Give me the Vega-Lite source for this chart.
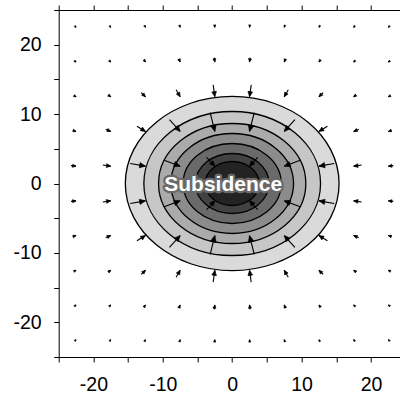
{
  "$schema": "https://vega.github.io/schema/vega-lite/v6.json",
  "width": 341.3,
  "height": 347,
  "autosize": "none",
  "padding": {"left": 58.7, "top": 10, "right": 0, "bottom": 38},
  "background": "white",
  "config": {
    "view": {"stroke": null},
    "axis": {
      "domainColor": "black", "tickColor": "black", "labelColor": "black",
      "labelFont": "Liberation Sans", "labelFontSize": 19.5, "tickSize": 5,
      "domainWidth": 1, "tickWidth": 1, "grid": false, "title": null,
      "labelOverlap": false, "labelFlush": false, "labelBound": false
    }
  },
  "datasets": {
    "arrows": [
      {"tx":2.5,"ty":2.5,"sx":3.68,"sy":3.76,"ang":223,"mag":1.73},
      {"tx":7.5,"ty":2.5,"sx":9.8,"sy":3.34,"ang":250,"mag":2.45},
      {"tx":12.5,"ty":2.5,"sx":14.7,"sy":2.89,"ang":260,"mag":2.23},
      {"tx":17.5,"ty":2.5,"sx":18.64,"sy":2.66,"ang":262,"mag":1.15},
      {"tx":22.5,"ty":2.5,"sx":23.22,"sy":2.58,"ang":264,"mag":0.72},
      {"tx":2.5,"ty":7.5,"sx":3.18,"sy":10.23,"ang":194,"mag":2.81},
      {"tx":7.5,"ty":7.5,"sx":9.04,"sy":9.21,"ang":222,"mag":2.31},
      {"tx":12.5,"ty":7.5,"sx":13.72,"sy":8.26,"ang":238,"mag":1.44},
      {"tx":17.5,"ty":7.5,"sx":18.23,"sy":7.81,"ang":247,"mag":0.79},
      {"tx":22.5,"ty":7.5,"sx":22.98,"sy":7.66,"ang":252,"mag":0.5},
      {"tx":2.5,"ty":12.5,"sx":2.74,"sy":14.21,"ang":188,"mag":1.73},
      {"tx":7.5,"ty":12.5,"sx":8.08,"sy":13.5,"ang":210,"mag":1.15},
      {"tx":12.5,"ty":12.5,"sx":13.11,"sy":13.11,"ang":225,"mag":0.87},
      {"tx":17.5,"ty":12.5,"sx":17.85,"sy":12.75,"ang":234,"mag":0.43},
      {"tx":22.5,"ty":12.5,"sx":22.75,"sy":12.64,"ang":241,"mag":0.29},
      {"tx":2.5,"ty":17.5,"sx":2.59,"sy":18.14,"ang":188,"mag":0.65},
      {"tx":7.5,"ty":17.5,"sx":7.7,"sy":17.96,"ang":203,"mag":0.5},
      {"tx":12.5,"ty":17.5,"sx":12.71,"sy":17.79,"ang":215,"mag":0.36},
      {"tx":17.5,"ty":17.5,"sx":17.65,"sy":17.65,"ang":225,"mag":0.22},
      {"tx":22.5,"ty":17.5,"sx":22.64,"sy":17.61,"ang":232,"mag":0.17},
      {"tx":2.5,"ty":22.5,"sx":2.53,"sy":22.79,"ang":186,"mag":0.29},
      {"tx":7.5,"ty":22.5,"sx":7.57,"sy":22.71,"ang":198,"mag":0.22},
      {"tx":12.5,"ty":22.5,"sx":12.58,"sy":22.65,"ang":209,"mag":0.17},
      {"tx":17.5,"ty":22.5,"sx":17.59,"sy":22.61,"ang":218,"mag":0.14},
      {"tx":22.5,"ty":22.5,"sx":22.6,"sy":22.6,"ang":225,"mag":0.14},

      {"tx":-2.5,"ty":2.5,"sx":-3.68,"sy":3.76,"ang":137,"mag":1.73},
      {"tx":-7.5,"ty":2.5,"sx":-9.8,"sy":3.34,"ang":110,"mag":2.45},
      {"tx":-12.5,"ty":2.5,"sx":-14.7,"sy":2.89,"ang":100,"mag":2.23},
      {"tx":-17.5,"ty":2.5,"sx":-18.64,"sy":2.66,"ang":98,"mag":1.15},
      {"tx":-22.5,"ty":2.5,"sx":-23.22,"sy":2.58,"ang":96,"mag":0.72},
      {"tx":-2.5,"ty":7.5,"sx":-3.18,"sy":10.23,"ang":166,"mag":2.81},
      {"tx":-7.5,"ty":7.5,"sx":-9.04,"sy":9.21,"ang":138,"mag":2.31},
      {"tx":-12.5,"ty":7.5,"sx":-13.72,"sy":8.26,"ang":122,"mag":1.44},
      {"tx":-17.5,"ty":7.5,"sx":-18.23,"sy":7.81,"ang":113,"mag":0.79},
      {"tx":-22.5,"ty":7.5,"sx":-22.98,"sy":7.66,"ang":108,"mag":0.5},
      {"tx":-2.5,"ty":12.5,"sx":-2.74,"sy":14.21,"ang":172,"mag":1.73},
      {"tx":-7.5,"ty":12.5,"sx":-8.08,"sy":13.5,"ang":150,"mag":1.15},
      {"tx":-12.5,"ty":12.5,"sx":-13.11,"sy":13.11,"ang":135,"mag":0.87},
      {"tx":-17.5,"ty":12.5,"sx":-17.85,"sy":12.75,"ang":126,"mag":0.43},
      {"tx":-22.5,"ty":12.5,"sx":-22.75,"sy":12.64,"ang":119,"mag":0.29},
      {"tx":-2.5,"ty":17.5,"sx":-2.59,"sy":18.14,"ang":172,"mag":0.65},
      {"tx":-7.5,"ty":17.5,"sx":-7.7,"sy":17.96,"ang":157,"mag":0.5},
      {"tx":-12.5,"ty":17.5,"sx":-12.71,"sy":17.79,"ang":145,"mag":0.36},
      {"tx":-17.5,"ty":17.5,"sx":-17.65,"sy":17.65,"ang":135,"mag":0.22},
      {"tx":-22.5,"ty":17.5,"sx":-22.64,"sy":17.61,"ang":128,"mag":0.17},
      {"tx":-2.5,"ty":22.5,"sx":-2.53,"sy":22.79,"ang":174,"mag":0.29},
      {"tx":-7.5,"ty":22.5,"sx":-7.57,"sy":22.71,"ang":162,"mag":0.22},
      {"tx":-12.5,"ty":22.5,"sx":-12.58,"sy":22.65,"ang":151,"mag":0.17},
      {"tx":-17.5,"ty":22.5,"sx":-17.59,"sy":22.61,"ang":142,"mag":0.14},
      {"tx":-22.5,"ty":22.5,"sx":-22.6,"sy":22.6,"ang":135,"mag":0.14},

      {"tx":-2.5,"ty":-2.5,"sx":-3.68,"sy":-3.76,"ang":43,"mag":1.73},
      {"tx":-7.5,"ty":-2.5,"sx":-9.8,"sy":-3.34,"ang":70,"mag":2.45},
      {"tx":-12.5,"ty":-2.5,"sx":-14.7,"sy":-2.89,"ang":80,"mag":2.23},
      {"tx":-17.5,"ty":-2.5,"sx":-18.64,"sy":-2.66,"ang":82,"mag":1.15},
      {"tx":-22.5,"ty":-2.5,"sx":-23.22,"sy":-2.58,"ang":84,"mag":0.72},
      {"tx":-2.5,"ty":-7.5,"sx":-3.18,"sy":-10.23,"ang":14,"mag":2.81},
      {"tx":-7.5,"ty":-7.5,"sx":-9.04,"sy":-9.21,"ang":42,"mag":2.31},
      {"tx":-12.5,"ty":-7.5,"sx":-13.72,"sy":-8.26,"ang":58,"mag":1.44},
      {"tx":-17.5,"ty":-7.5,"sx":-18.23,"sy":-7.81,"ang":67,"mag":0.79},
      {"tx":-22.5,"ty":-7.5,"sx":-22.98,"sy":-7.66,"ang":72,"mag":0.5},
      {"tx":-2.5,"ty":-12.5,"sx":-2.74,"sy":-14.21,"ang":8,"mag":1.73},
      {"tx":-7.5,"ty":-12.5,"sx":-8.08,"sy":-13.5,"ang":30,"mag":1.15},
      {"tx":-12.5,"ty":-12.5,"sx":-13.11,"sy":-13.11,"ang":45,"mag":0.87},
      {"tx":-17.5,"ty":-12.5,"sx":-17.85,"sy":-12.75,"ang":54,"mag":0.43},
      {"tx":-22.5,"ty":-12.5,"sx":-22.75,"sy":-12.64,"ang":61,"mag":0.29},
      {"tx":-2.5,"ty":-17.5,"sx":-2.59,"sy":-18.14,"ang":8,"mag":0.65},
      {"tx":-7.5,"ty":-17.5,"sx":-7.7,"sy":-17.96,"ang":23,"mag":0.5},
      {"tx":-12.5,"ty":-17.5,"sx":-12.71,"sy":-17.79,"ang":35,"mag":0.36},
      {"tx":-17.5,"ty":-17.5,"sx":-17.65,"sy":-17.65,"ang":45,"mag":0.22},
      {"tx":-22.5,"ty":-17.5,"sx":-22.64,"sy":-17.61,"ang":52,"mag":0.17},
      {"tx":-2.5,"ty":-22.5,"sx":-2.53,"sy":-22.79,"ang":6,"mag":0.29},
      {"tx":-7.5,"ty":-22.5,"sx":-7.57,"sy":-22.71,"ang":18,"mag":0.22},
      {"tx":-12.5,"ty":-22.5,"sx":-12.58,"sy":-22.65,"ang":29,"mag":0.17},
      {"tx":-17.5,"ty":-22.5,"sx":-17.59,"sy":-22.61,"ang":38,"mag":0.14},
      {"tx":-22.5,"ty":-22.5,"sx":-22.6,"sy":-22.6,"ang":45,"mag":0.14},

      {"tx":2.5,"ty":-2.5,"sx":3.68,"sy":-3.76,"ang":317,"mag":1.73},
      {"tx":7.5,"ty":-2.5,"sx":9.8,"sy":-3.34,"ang":290,"mag":2.45},
      {"tx":12.5,"ty":-2.5,"sx":14.7,"sy":-2.89,"ang":280,"mag":2.23},
      {"tx":17.5,"ty":-2.5,"sx":18.64,"sy":-2.66,"ang":278,"mag":1.15},
      {"tx":22.5,"ty":-2.5,"sx":23.22,"sy":-2.58,"ang":276,"mag":0.72},
      {"tx":2.5,"ty":-7.5,"sx":3.18,"sy":-10.23,"ang":346,"mag":2.81},
      {"tx":7.5,"ty":-7.5,"sx":9.04,"sy":-9.21,"ang":318,"mag":2.31},
      {"tx":12.5,"ty":-7.5,"sx":13.72,"sy":-8.26,"ang":302,"mag":1.44},
      {"tx":17.5,"ty":-7.5,"sx":18.23,"sy":-7.81,"ang":293,"mag":0.79},
      {"tx":22.5,"ty":-7.5,"sx":22.98,"sy":-7.66,"ang":288,"mag":0.5},
      {"tx":2.5,"ty":-12.5,"sx":2.74,"sy":-14.21,"ang":352,"mag":1.73},
      {"tx":7.5,"ty":-12.5,"sx":8.08,"sy":-13.5,"ang":330,"mag":1.15},
      {"tx":12.5,"ty":-12.5,"sx":13.11,"sy":-13.11,"ang":315,"mag":0.87},
      {"tx":17.5,"ty":-12.5,"sx":17.85,"sy":-12.75,"ang":306,"mag":0.43},
      {"tx":22.5,"ty":-12.5,"sx":22.75,"sy":-12.64,"ang":299,"mag":0.29},
      {"tx":2.5,"ty":-17.5,"sx":2.59,"sy":-18.14,"ang":352,"mag":0.65},
      {"tx":7.5,"ty":-17.5,"sx":7.7,"sy":-17.96,"ang":337,"mag":0.5},
      {"tx":12.5,"ty":-17.5,"sx":12.71,"sy":-17.79,"ang":325,"mag":0.36},
      {"tx":17.5,"ty":-17.5,"sx":17.65,"sy":-17.65,"ang":315,"mag":0.22},
      {"tx":22.5,"ty":-17.5,"sx":22.64,"sy":-17.61,"ang":308,"mag":0.17},
      {"tx":2.5,"ty":-22.5,"sx":2.53,"sy":-22.79,"ang":354,"mag":0.29},
      {"tx":7.5,"ty":-22.5,"sx":7.57,"sy":-22.71,"ang":342,"mag":0.22},
      {"tx":12.5,"ty":-22.5,"sx":12.58,"sy":-22.65,"ang":331,"mag":0.17},
      {"tx":17.5,"ty":-22.5,"sx":17.59,"sy":-22.61,"ang":322,"mag":0.14},
      {"tx":22.5,"ty":-22.5,"sx":22.6,"sy":-22.6,"ang":315,"mag":0.14}
    ]
  },
  "resolve": {"axis": {"x": "independent", "y": "independent"}, "scale": {"size": "independent"}},
  "layer": [
    {
      "data": {"values": [
        {"level": 1, "rx": 15.4, "cx": 0, "cy": 0},
        {"level": 2, "rx": 12.73, "cx": 0, "cy": 0},
        {"level": 3, "rx": 10.61, "cx": 0, "cy": 0},
        {"level": 4, "rx": 8.84, "cx": 0, "cy": 0},
        {"level": 5, "rx": 7.07, "cx": 0, "cy": 0},
        {"level": 6, "rx": 5.3, "cx": 0, "cy": 0},
        {"level": 7, "rx": 3.89, "cx": 0, "cy": 0}
      ]},
      "mark": {
        "type": "point",
        "shape": "M1,0C1,0.4501,0.5523,0.815,0,0.815C-0.5523,0.815,-1,0.4501,-1,0C-1,-0.4501,-0.5523,-0.815,0,-0.815C0.5523,-0.815,1,-0.4501,1,0Z",
        "filled": true, "opacity": 1, "stroke": "black", "strokeWidth": 1.3
      },
      "encoding": {
        "x": {"field": "cx", "type": "quantitative",
              "scale": {"domain": [-25, 24.18], "nice": false, "zero": false},
              "axis": {"orient": "bottom", "values": [-25, -20, -15, -10, -5, 0, 5, 10, 15, 20],
                       "labelExpr": "datum.value % 10 === 0 ? '' + datum.value : ''", "labelPadding": 13.5}},
        "y": {"field": "cy", "type": "quantitative",
              "scale": {"domain": [-25, 25], "nice": false, "zero": false},
              "axis": {"orient": "left", "values": [-25, -20, -15, -10, -5, 0, 5, 10, 15, 20, 25],
                       "labelExpr": "datum.value % 10 === 0 ? '' + datum.value : ''", "labelPadding": 12.5}},
        "size": {"field": "rx", "type": "quantitative",
                 "scale": {"type": "pow", "exponent": 2, "domain": [0, 20], "range": [0, 77062]}, "legend": null},
        "fill": {"field": "level", "type": "ordinal",
                 "scale": {"domain": [1, 2, 3, 4, 5, 6, 7],
                           "range": ["#dadada", "#c6c6c6", "#ababab", "#8c8c8c", "#6a6a6a", "#424242", "#232323"]},
                 "legend": null},
        "order": {"field": "level", "type": "quantitative"}
      }
    },
    {
      "data": {"name": "arrows"},
      "mark": {"type": "rule", "color": "black", "strokeWidth": 1.1},
      "encoding": {
        "x": {"field": "sx", "type": "quantitative",
              "scale": {"domain": [-25, 24.18], "nice": false, "zero": false},
              "axis": {"orient": "top", "labels": false, "values": [-25, -20, -15, -10, -5, 0, 5, 10, 15, 20]}},
        "y": {"field": "sy", "type": "quantitative",
              "scale": {"domain": [-25, 25], "nice": false, "zero": false}, "axis": null},
        "x2": {"field": "tx"},
        "y2": {"field": "ty"}
      }
    },
    {
      "data": {"name": "arrows"},
      "mark": {"type": "point", "shape": "M0,0L0.45,1L-0.45,1Z", "filled": true, "opacity": 1,
               "color": "black", "stroke": "black", "strokeWidth": 0.6},
      "encoding": {
        "x": {"field": "tx", "type": "quantitative",
              "scale": {"domain": [-25, 24.18], "nice": false, "zero": false}, "axis": null},
        "y": {"field": "ty", "type": "quantitative",
              "scale": {"domain": [-25, 25], "nice": false, "zero": false}, "axis": null},
        "angle": {"field": "ang", "type": "quantitative", "scale": null},
        "size": {"field": "mag", "type": "quantitative",
                 "scale": {"type": "linear", "domain": [0, 2.8], "range": [6, 170], "zero": false}, "legend": null}
      }
    },
    {
      "data": {"values": [{"lx": -1.3, "ly": -1.1, "label": "Subsidence"}]},
      "mark": {"type": "text", "font": "Liberation Sans", "fontWeight": "bold", "fontSize": 21,
               "align": "center", "baseline": "alphabetic", "fill": "#696969",
               "stroke": "#696969", "strokeWidth": 4.5, "strokeJoin": "round"},
      "encoding": {
        "x": {"field": "lx", "type": "quantitative", "scale": {"domain": [-25, 24.18], "nice": false, "zero": false}, "axis": null},
        "y": {"field": "ly", "type": "quantitative", "scale": {"domain": [-25, 25], "nice": false, "zero": false}, "axis": null},
        "text": {"field": "label"}
      }
    },
    {
      "data": {"values": [{"lx": -1.3, "ly": -1.1, "label": "Subsidence"}]},
      "mark": {"type": "text", "font": "Liberation Sans", "fontWeight": "bold", "fontSize": 21,
               "align": "center", "baseline": "alphabetic", "fill": "white"},
      "encoding": {
        "x": {"field": "lx", "type": "quantitative", "scale": {"domain": [-25, 24.18], "nice": false, "zero": false}, "axis": null},
        "y": {"field": "ly", "type": "quantitative", "scale": {"domain": [-25, 25], "nice": false, "zero": false}, "axis": null},
        "text": {"field": "label"}
      }
    }
  ]
}
